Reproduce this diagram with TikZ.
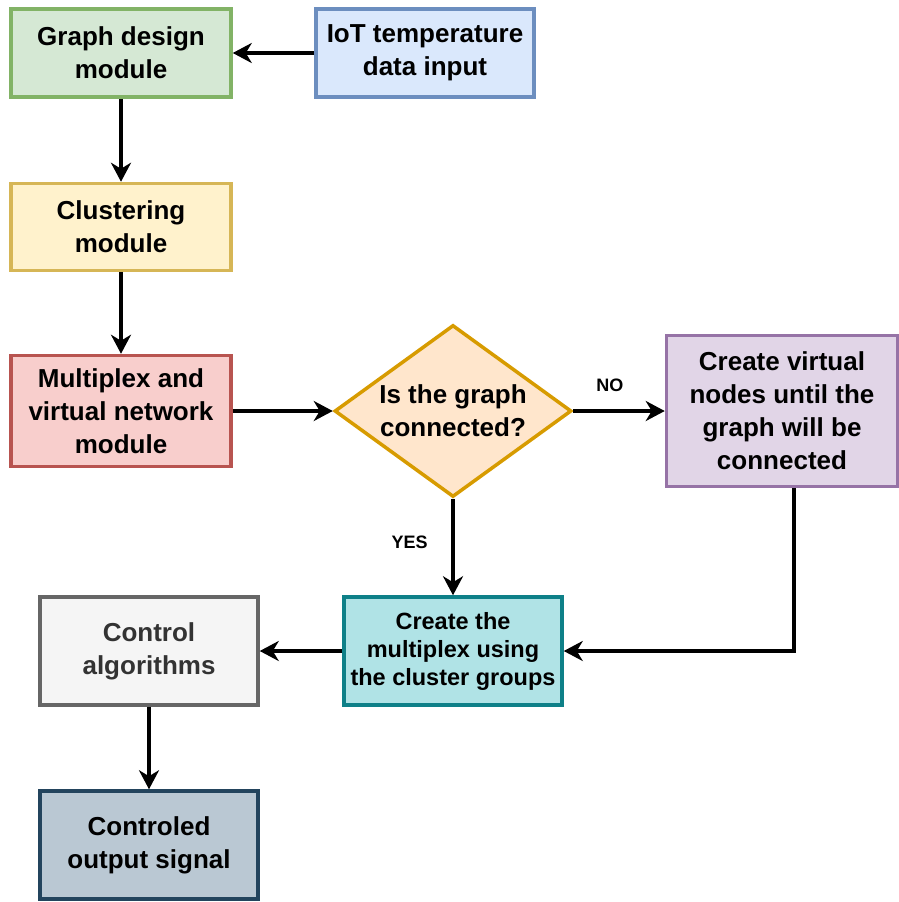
\documentclass[tikz,border=0pt]{standalone}
\usepackage{fontspec}
\setmainfont{Liberation Sans}
\usetikzlibrary{positioning,shapes.geometric,arrows.meta}
\definecolor{grnfill}{HTML}{D5E8D4}\definecolor{grnline}{HTML}{82B366}
\definecolor{blufill}{HTML}{DAE8FC}\definecolor{bluline}{HTML}{6C8EBF}
\definecolor{ylwfill}{HTML}{FFF2CC}\definecolor{ylwline}{HTML}{D6B656}
\definecolor{redfill}{HTML}{F8CECC}\definecolor{redline}{HTML}{B85450}
\definecolor{orgfill}{HTML}{FFE6CC}\definecolor{orgline}{HTML}{D79B00}
\definecolor{prpfill}{HTML}{E1D5E7}\definecolor{prpline}{HTML}{9673A6}
\definecolor{tealfill}{HTML}{B0E3E6}\definecolor{tealline}{HTML}{0E8088}
\definecolor{gryfill}{HTML}{F5F5F5}\definecolor{gryline}{HTML}{666666}\definecolor{grytext}{HTML}{333333}
\definecolor{slatefill}{HTML}{BAC8D3}\definecolor{slateline}{HTML}{23445D}
\tikzset{x=1pt, y=-1pt}
\tikzset{mod/.style={draw,rectangle,line width=3.5pt,minimum width=220pt,minimum height=88pt,
    align=center,inner sep=2pt,font={\fontsize{26}{33}\selectfont\bfseries}}}
\tikzset{dec/.style={mod,diamond,aspect=1.38,inner sep=0pt,minimum width=237pt,minimum height=172pt}}
\tikzset{arr/.style={line width=4pt,-{Stealth[length=19pt,width=20pt,inset=6pt]}}}
\tikzset{lbl/.style={font={\fontsize{18}{21}\selectfont\bfseries}}}
\begin{document}
\begin{tikzpicture}[on grid]
  \useasboundingbox (0,0) rectangle (899,902);

  \node[mod,fill=grnfill,draw=grnline] (graph) at (121,53) {Graph design\\module};
  \node[mod,fill=blufill,draw=bluline,minimum width=218pt] (iot) [right=304pt of graph] {IoT temperature\\data input};
  \node[mod,fill=ylwfill,draw=ylwline,minimum height=87pt] (clus) [below=174pt of graph] {Clustering\\module};
  \node[mod,fill=redfill,draw=redline,minimum height=111pt] (multi) [below=184pt of clus] {Multiplex and\\virtual network\\module};
  \node[dec,fill=orgfill,draw=orgline] (conn) [right=332pt of multi] {Is the graph\\connected?};
  \node[mod,fill=prpfill,draw=prpline,minimum width=231pt,minimum height=151pt] (virt) [right=329pt of conn] {Create virtual\\nodes until the\\graph will be\\connected};
  \node[mod,fill=tealfill,draw=tealline,minimum width=218pt,minimum height=108pt,
        font={\fontsize{23.5}{28}\selectfont\bfseries}] (mplx) [below=240pt of conn] {Create the\\multiplex using\\the cluster groups};
  \node[mod,fill=gryfill,draw=gryline,text=grytext,minimum width=218pt,minimum height=108pt] (ctrl) [left=304pt of mplx] {Control\\algorithms};
  \node[mod,fill=slatefill,draw=slateline,minimum width=218pt,minimum height=108pt] (out) [below=194pt of ctrl] {Controled\\output signal};

  \draw[arr] (iot) -- (graph);
  \draw[arr] (graph) -- (clus);
  \draw[arr] (clus) -- (multi);
  \draw[arr] (multi) -- (conn);
  \draw[arr] (conn) -- node[lbl,above=14pt,pos=.4] {NO} (virt);
  \draw[arr] (conn) -- node[lbl,left=20pt,pos=.45] {YES} (mplx);
  \draw[arr] ([xshift=12pt]virt.south) |- (mplx.east);
  \draw[arr] (mplx) -- (ctrl);
  \draw[arr] (ctrl) -- (out);
\end{tikzpicture}
\end{document}
